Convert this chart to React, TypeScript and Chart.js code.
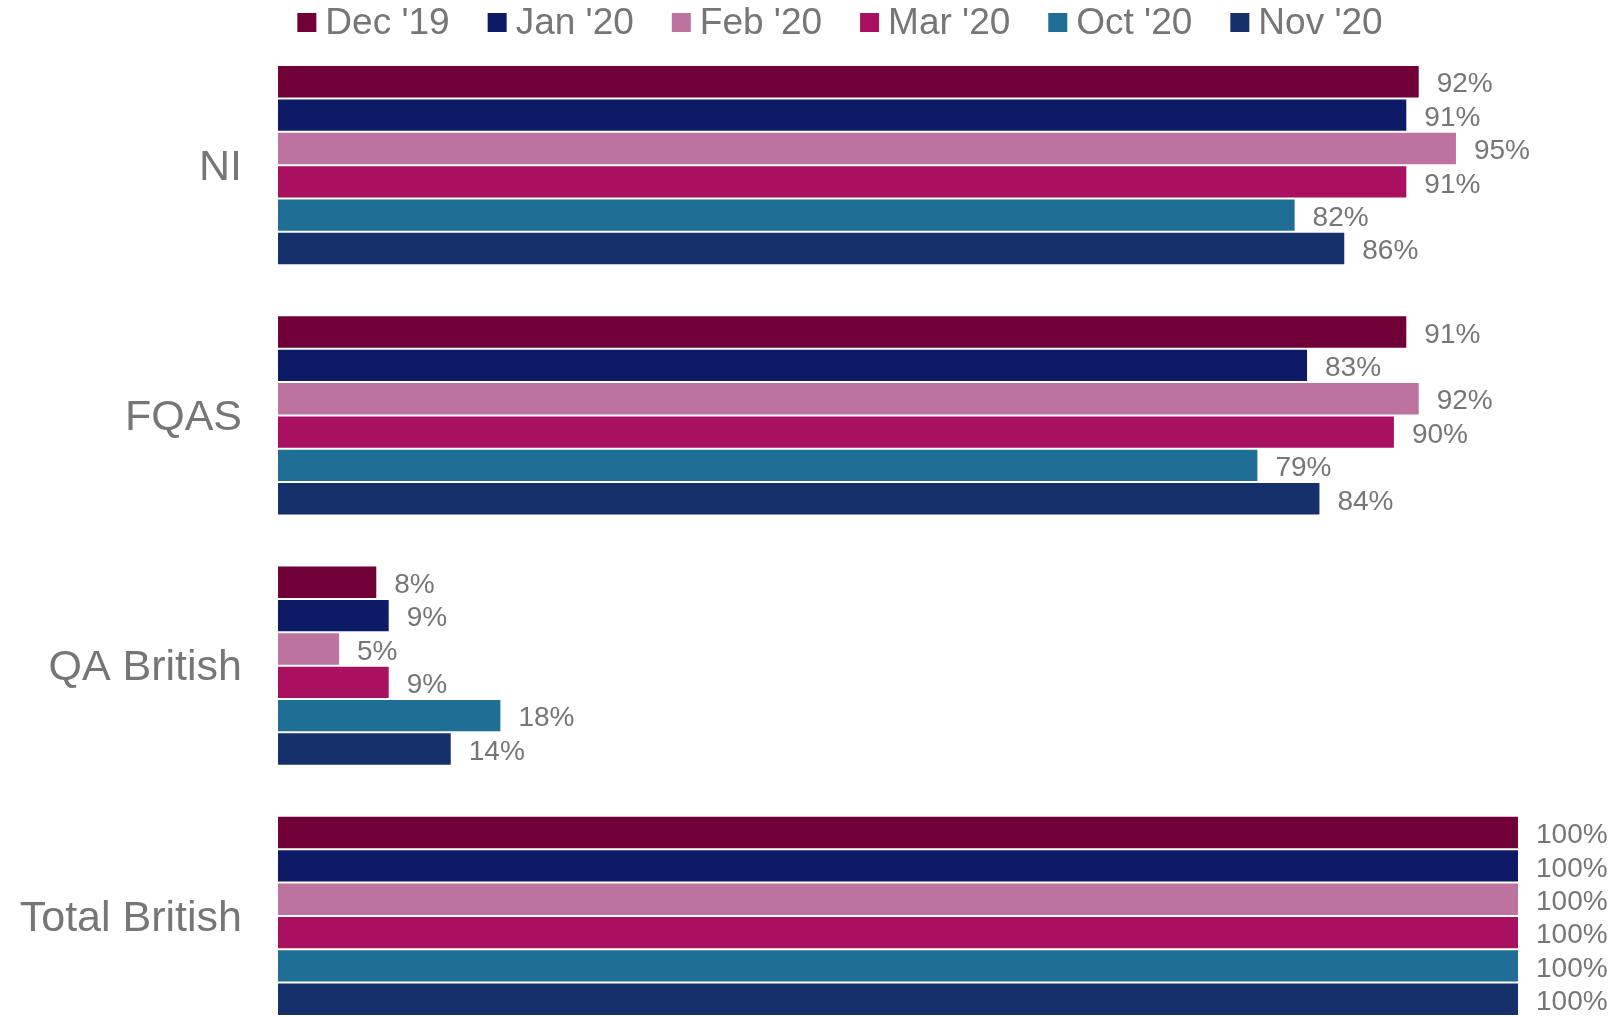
import React, { useEffect, useRef } from "react";
import { Chart, registerables } from "chart.js";

Chart.register(...registerables);

const categories = ["NI", "FQAS", "QA British", "Total British"];
const seriesLabels = ["Dec '19", "Jan '20", "Feb '20", "Mar '20", "Oct '20", "Nov '20"];
const seriesColors = ["#720038", "#0D1A66", "#BC73A0", "#AA1060", "#1F6E96", "#15306A"];
const dec19 = [92, 91, 8, 100];
const jan20 = [91, 83, 9, 100];
const feb20 = [95, 92, 5, 100];
const mar20 = [91, 90, 9, 100];
const oct20 = [82, 79, 18, 100];
const nov20 = [86, 84, 14, 100];
const seriesValues = [dec19, jan20, feb20, mar20, oct20, nov20];

const FONT = "'Liberation Sans', Arial, sans-serif";
const TEXT = "#767676";

const legendPlugin = {
  id: "customLegend",
  afterDraw(chart: any) {
    const ctx = chart.ctx;
    ctx.save();
    ctx.font = `37px ${FONT}`;
    const box = 19;
    const gapBoxText = 9;
    const gapItems = 38;
    const items = chart.data.datasets.map((ds: any) => ({
      label: ds.label,
      color: ds.backgroundColor,
      w: ctx.measureText(ds.label).width,
    }));
    const total =
      items.reduce((s: number, it: any) => s + box + gapBoxText + it.w, 0) +
      gapItems * (items.length - 1);
    let x = 840 - total / 2;
    ctx.textBaseline = "alphabetic";
    ctx.textAlign = "left";
    for (const it of items) {
      ctx.fillStyle = it.color;
      ctx.fillRect(x, 13, box, box);
      ctx.fillStyle = TEXT;
      ctx.fillText(it.label, x + box + gapBoxText, 34);
      x += box + gapBoxText + it.w + gapItems;
    }
    ctx.restore();
  },
};

const valueLabelPlugin = {
  id: "valueLabels",
  afterDatasetsDraw(chart: any) {
    const ctx = chart.ctx;
    ctx.save();
    ctx.font = `28px ${FONT}`;
    ctx.fillStyle = TEXT;
    ctx.textAlign = "left";
    ctx.textBaseline = "middle";
    chart.data.datasets.forEach((ds: any, i: number) => {
      const meta = chart.getDatasetMeta(i);
      meta.data.forEach((el: any, j: number) => {
        ctx.fillText(`${ds.data[j]}%`, el.x + 17, el.y + 3);
      });
    });
    ctx.restore();
  },
};

export default function App() {
  const ref = useRef<HTMLCanvasElement>(null);
  useEffect(() => {
    if (!ref.current) return;
    const chart = new Chart(ref.current, {
      type: "bar",
      data: {
        labels: categories,
        datasets: seriesLabels.map((label, i) => ({
          label,
          data: seriesValues[i],
          backgroundColor: seriesColors[i],
          borderColor: "rgba(255,255,255,0.25)",
          borderWidth: 1,
          barPercentage: 1,
          categoryPercentage: 0.8,
        })),
      },
      options: {
        indexAxis: "y",
        animation: false,
        responsive: false,
        maintainAspectRatio: false,
        layout: { padding: { top: 40, bottom: 5, left: 0, right: 99 } },
        plugins: {
          legend: { display: false },
          tooltip: { enabled: false },
        },
        scales: {
          x: {
            display: false,
            min: 0,
            max: 100,
            afterFit(scale: any) {
              scale.height = 0;
              scale.paddingLeft = 0;
              scale.paddingRight = 0;
            },
          },
          y: {
            grid: { display: false, drawTicks: false },
            border: { display: false },
            ticks: {
              autoSkip: false,
              padding: 36,
              labelOffset: 3,
              color: TEXT,
              font: { family: FONT, size: 43 },
            },
            afterFit(scale: any) {
              scale.width = 278;
              scale.paddingTop = 0;
              scale.paddingBottom = 0;
            },
          },
        },
      },
      plugins: [legendPlugin, valueLabelPlugin],
    });
    return () => chart.destroy();
  }, []);
  return (
    <div style={{ position: "absolute", left: 0, top: 0, width: 1618, height: 1046, background: "#fff" }}>
      <canvas ref={ref} width={1618} height={1046} style={{ width: 1618, height: 1046 }} />
    </div>
  );
}
